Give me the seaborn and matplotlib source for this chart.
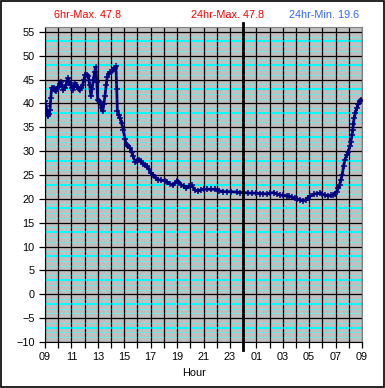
import matplotlib
matplotlib.use("Agg")
import matplotlib.pyplot as plt
import seaborn as sns
import pandas as pd
import numpy as np

# hours since 09:00, temperature readings
hours = [0.00, 0.08, 0.13, 0.20, 0.25, 0.33, 0.38, 0.44, 0.50, 0.60, 0.68, 0.75, 0.83, 0.92,
         1.00, 1.10, 1.19, 1.30, 1.39, 1.50, 1.59, 1.68, 1.77, 1.85, 1.94, 2.02, 2.10, 2.18,
         2.27, 2.36, 2.45, 2.55, 2.65, 2.75, 2.85, 2.95, 3.03, 3.15, 3.28, 3.38, 3.48, 3.56,
         3.66, 3.75, 3.84, 3.92, 3.99, 4.08, 4.16, 4.27, 4.37, 4.45, 4.54, 4.63, 4.72, 4.82,
         4.92, 5.05, 5.17, 5.27, 5.37, 5.43, 5.48, 5.57, 5.68, 5.80, 5.93, 6.05, 6.18, 6.30,
         6.43, 6.55, 6.68, 6.80, 6.95, 7.10, 7.25, 7.40, 7.55, 7.70, 7.85, 8.00, 8.20, 8.40,
         8.58, 8.80, 9.08, 9.25, 9.46, 9.70, 9.97, 10.10, 10.30, 10.50, 10.70, 10.90, 11.10,
         11.35, 11.60, 11.80, 12.00, 12.30, 12.60, 12.90, 13.20, 13.50, 13.80, 14.10, 14.50,
         14.80, 15.10, 15.40, 15.70, 16.00, 16.30, 16.50, 16.80, 17.05, 17.30, 17.55, 17.80,
         18.05, 18.30, 18.50, 18.70, 18.90, 19.10, 19.30, 19.55, 19.75, 19.90, 20.10, 20.40,
         20.60, 20.80, 21.00, 21.20, 21.45, 21.65, 21.80, 21.95, 22.07, 22.20, 22.30, 22.40,
         22.50, 22.60, 22.70, 22.85, 22.96, 23.08, 23.16, 23.24, 23.30, 23.35, 23.40, 23.50,
         23.60, 23.72, 23.85, 23.95]
temps = [40.4, 39.5, 38.3, 37.6, 37.3, 37.8, 38.6, 41.1, 43.2, 43.0, 43.2, 42.7, 42.5, 43.0,
         43.5, 44.0, 44.4, 43.4, 42.8, 43.3, 43.9, 44.6, 45.3, 44.6, 43.9, 43.2, 42.8, 43.5,
         44.2, 43.9, 43.5, 43.0, 42.8, 43.2, 43.9, 45.0, 46.0, 45.9, 45.8, 43.8, 41.5, 43.0,
         44.9, 46.5, 47.7, 44.5, 40.8, 40.5, 40.2, 39.0, 38.3, 39.8, 41.5, 43.8, 45.6, 46.2,
         46.5, 46.7, 47.0, 47.4, 47.8, 43.0, 38.3, 37.5, 37.0, 35.8, 34.5, 32.5, 31.3, 31.0,
         30.7, 29.8, 28.9, 27.8, 27.9, 28.2, 27.9, 27.4, 27.0, 26.8, 26.2, 25.5, 25.0, 24.4,
         24.0, 23.9, 23.8, 23.5, 23.1, 22.8, 23.8, 23.6, 23.0, 22.6, 22.2, 22.6, 22.8,
         21.9, 21.6, 21.9, 22.0, 22.0, 22.0, 22.0, 21.7, 21.5, 21.5, 21.5, 21.4,
         21.3, 21.3, 21.2, 21.2, 21.2, 21.1, 21.1, 21.0, 21.2, 21.3, 21.0, 20.8,
         20.7, 20.6, 20.5, 20.3, 20.1, 19.9, 19.8, 19.6, 19.8, 20.2, 20.6, 21.0,
         21.1, 21.2, 21.0, 20.8, 20.6, 20.7, 20.8, 21.1, 21.5, 22.2, 22.9, 24.0,
         25.0, 26.8, 28.2, 29.2, 29.9, 31.0, 32.0, 33.3, 34.5, 35.7, 36.9, 38.0,
         39.0, 39.8, 40.4, 40.7]

hour_labels = ["09", "11", "13", "15", "17", "19", "21", "23", "01", "03", "05", "07", "09"]
max6 = 47.8
max24 = 47.8
min24 = 19.6

plt.rcParams['font.family'] = ['Liberation Sans', 'DejaVu Sans']
plt.rcParams['font.size'] = 7.8

df = pd.DataFrame({"hour": hours, "temp": temps})

fig = plt.figure(figsize=(3.85, 3.88), dpi=100)
ax = fig.add_axes([45 / 385, 1 - 342 / 388, 317 / 385, 315 / 388])
ax.set_facecolor("#C0C0C0")

# minor horizontal lines (cyan)
for v in range(-10, 56):
    if v % 5 == 0:
        continue
    if v % 5 == 3:
        ax.axhline(v, color="#00FFFF", lw=1.5, zorder=1)
    else:
        ax.axhline(v, color="#70E8E8", lw=0.75, zorder=1)
for v in range(-10, 56, 5):
    ax.axhline(v, color="black", lw=0.9, zorder=2)
for h in range(0, 25):
    ax.axvline(h, color="black", lw=0.9, zorder=2)

sns.lineplot(data=df, x="hour", y="temp", ax=ax, color="#000080", lw=2.0,
             marker="+", markersize=4.5, markeredgewidth=1.1, markeredgecolor="#000080",
             zorder=4)

ax.plot([15, 15], [-11.6, 56.8], color="black", lw=2, clip_on=False, zorder=5)

ax.set_xlim(0, 24)
ax.set_ylim(-10, 56)
ax.set_xticks(range(0, 25, 2))
ax.set_xticklabels(hour_labels)
ax.set_xticks(range(0, 25), minor=True)
ax.set_yticks(range(-10, 56, 5))
ax.tick_params(axis="both", which="both", direction="out", length=4, width=0.9,
               colors="black", labelsize=7.8)
ax.tick_params(axis="x", pad=3)
ax.set_xlabel("")
ax.set_ylabel("")
for s in ["top", "right"]:
    ax.spines[s].set_color("#808080")
for s in ["left", "bottom"]:
    ax.spines[s].set_color("black")

fig.text(194 / 385, 1 - 373 / 388, "Hour", ha="center", va="center", fontsize=7.8)
fig.text(88 / 385, 1 - 15 / 388, f"6hr-Max. {max6}", ha="center", va="center",
         color="red", fontsize=7.8)
fig.text(228 / 385, 1 - 15 / 388, f"24hr-Max. {max24}", ha="center", va="center",
         color="red", fontsize=7.8)
fig.text(324 / 385, 1 - 15 / 388, f"24hr-Min. {min24}", ha="center", va="center",
         color="#3366FF", fontsize=7.8)

fig.add_artist(plt.Rectangle((0.0015, 0.0015), 0.997, 0.997, transform=fig.transFigure,
                             fill=False, edgecolor="black", lw=1.2))

fig.savefig("out.png", dpi=100)
